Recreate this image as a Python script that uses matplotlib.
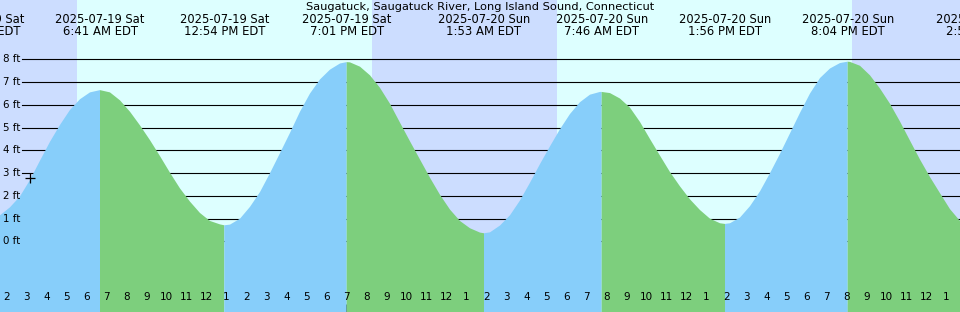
import matplotlib
matplotlib.use("Agg")
import matplotlib.pyplot as plt
import matplotlib.transforms as mtransforms
from datetime import datetime

# ---------------- data ----------------
tide_times = [
    "07-19 01:41", "07-19 02:11", "07-19 02:41", "07-19 03:11", "07-19 03:41", "07-19 04:11",
    "07-19 04:41", "07-19 05:11", "07-19 05:41", "07-19 06:11", "07-19 06:41", "07-19 07:11",
    "07-19 07:41", "07-19 08:11", "07-19 08:41", "07-19 09:11", "07-19 09:41", "07-19 10:11",
    "07-19 10:41", "07-19 11:11", "07-19 11:41", "07-19 12:11", "07-19 12:41", "07-19 12:54",
    "07-19 13:11", "07-19 13:41", "07-19 14:11", "07-19 14:41", "07-19 15:11", "07-19 15:41",
    "07-19 16:11", "07-19 16:41", "07-19 17:11", "07-19 17:41", "07-19 18:11", "07-19 18:41",
    "07-19 19:01", "07-19 19:11", "07-19 19:41", "07-19 20:11", "07-19 20:41", "07-19 21:11",
    "07-19 21:41", "07-19 22:11", "07-19 22:41", "07-19 23:11", "07-19 23:41", "07-20 00:11",
    "07-20 00:41", "07-20 01:11", "07-20 01:41", "07-20 01:53", "07-20 02:11", "07-20 02:41",
    "07-20 03:11", "07-20 03:41", "07-20 04:11", "07-20 04:41", "07-20 05:11", "07-20 05:41",
    "07-20 06:11", "07-20 06:41", "07-20 07:11", "07-20 07:41", "07-20 07:46", "07-20 08:11",
    "07-20 08:41", "07-20 09:11", "07-20 09:41", "07-20 10:11", "07-20 10:41", "07-20 11:11",
    "07-20 11:41", "07-20 12:11", "07-20 12:41", "07-20 13:11", "07-20 13:41", "07-20 13:56",
    "07-20 14:11", "07-20 14:41", "07-20 15:11", "07-20 15:41", "07-20 16:11", "07-20 16:41",
    "07-20 17:11", "07-20 17:41", "07-20 18:11", "07-20 18:41", "07-20 19:11", "07-20 19:41",
    "07-20 20:04", "07-20 20:11", "07-20 20:41", "07-20 21:11", "07-20 21:41", "07-20 22:11",
    "07-20 22:41", "07-20 23:11", "07-20 23:41", "07-21 00:11", "07-21 00:41", "07-21 01:11",
    "07-21 01:41",
]
tide_ft = [
    1.15, 1.50, 1.98, 2.70, 3.55, 4.38,
    5.12, 5.78, 6.25, 6.55, 6.65, 6.55,
    6.20, 5.70, 5.10, 4.45, 3.75, 3.02,
    2.33, 1.75, 1.25, 0.90, 0.75, 0.71,
    0.74, 1.00, 1.52, 2.17, 3.00, 3.88,
    4.77, 5.70, 6.50, 7.12, 7.55, 7.82,
    7.88, 7.87, 7.68, 7.30, 6.75, 6.05,
    5.22, 4.40, 3.60, 2.80, 2.05, 1.40,
    0.90, 0.58, 0.39, 0.36, 0.40, 0.70,
    1.15, 1.80, 2.58, 3.40, 4.18, 4.93,
    5.60, 6.12, 6.45, 6.57, 6.57, 6.52,
    6.28, 5.88, 5.25, 4.50, 3.77, 3.05,
    2.42, 1.85, 1.38, 1.00, 0.80, 0.77,
    0.80, 1.05, 1.55, 2.20, 3.00, 3.85,
    4.75, 5.65, 6.50, 7.18, 7.60, 7.84,
    7.90, 7.89, 7.72, 7.30, 6.72, 6.05,
    5.27, 4.43, 3.60, 2.83, 2.12, 1.42,
    0.90,
]
extreme_times = ["07-19 00:39", "07-19 06:41", "07-19 12:54", "07-19 19:01",
                 "07-20 01:53", "07-20 07:46", "07-20 13:56", "07-20 20:04", "07-21 02:52"]
extreme_kind = ["low", "high", "low", "high", "low", "high", "low", "high", "low"]
sunrise_times = ["07-19 05:32", "07-20 05:31"]
sunset_times = ["07-19 20:16", "07-20 20:17"]
window = ["07-19 01:41", "07-21 01:41"]
ft_levels = [0, 1, 2, 3, 4, 5, 6, 7, 8]
mark_time, mark_ft = "07-19 03:11", 2.78
title = "Saugatuck, Saugatuck River, Long Island Sound, Connecticut"

# ---------------- helpers ----------------
BASE = datetime(2025, 7, 19)


def parse(s):
    return datetime.strptime("2025-" + s, "%Y-%m-%d %H:%M")


def hrs(s):
    return (parse(s) - BASE).total_seconds() / 3600.0


t = [hrs(s) for s in tide_times]
t0, t1 = hrs(window[0]), hrs(window[1])

NIGHT = "#ccddff"
DAY = "#ddffff"
FLOOD = "#87cefa"
EBB = "#7dcf7d"

fig = plt.figure(figsize=(9.6, 3.12), dpi=100)
ax = fig.add_axes([0, 0, 1, 1])
ax.set_facecolor(DAY)
ax.set_xlim(t0, t1)
ybot, ytop = -3.10, 10.61
ax.set_ylim(ybot, ytop)
for sp in ax.spines.values():
    sp.set_visible(False)

# night shading
nights = [(t0, hrs(sunrise_times[0])), (hrs(sunset_times[0]), hrs(sunrise_times[1])),
          (hrs(sunset_times[1]), t1)]
for a, b in nights:
    ax.axvspan(a, b, color=NIGHT, lw=0, zorder=0.1)

# grid lines (drawn beneath the tide fill)
for lv in ft_levels:
    ax.axhline(lv, xmin=22 / 960, xmax=1, color="black", lw=0.8, zorder=0.5)

# tide fills
ext_t = [hrs(s) for s in extreme_times]
for i in range(len(ext_t) - 1):
    a, b = ext_t[i], ext_t[i + 1]
    xs = [tt for tt in t if a <= tt <= b]
    ys = [hh for tt, hh in zip(t, tide_ft) if a <= tt <= b]
    if len(xs) < 2:
        continue
    col = FLOOD if extreme_kind[i] == "low" else EBB
    ax.fill_between(xs, ybot, ys, facecolor=col, edgecolor="none", lw=0, zorder=3)

# marker
ax.plot([hrs(mark_time)], [mark_ft], marker="+", color="black", ms=7.5, mew=0.9, zorder=4)

# y labels
ytrans = mtransforms.blended_transform_factory(ax.transAxes, ax.transData)
for lv in ft_levels:
    ax.text(3 / 960, lv, f"{lv} ft", transform=ytrans, ha="left", va="center",
            fontsize=7.4, color="black", zorder=5)

# extreme labels
xtrans = mtransforms.blended_transform_factory(ax.transData, ax.transAxes)
for s in extreme_times:
    d = parse(s)
    line1 = d.strftime("%Y-%m-%d %a")
    hh = d.hour % 12 or 12
    line2 = f"{hh}:{d.minute:02d} {'AM' if d.hour < 12 else 'PM'} EDT"
    ax.text(hrs(s), 1 - 19.5 / 312, line1, transform=xtrans, ha="center", va="center",
            fontsize=8.3, color="black", zorder=5)
    ax.text(hrs(s), 1 - 31.5 / 312, line2, transform=xtrans, ha="center", va="center",
            fontsize=8.4, color="black", zorder=5)

ax.text(0.5, 1 - 7 / 312, title, transform=ax.transAxes, ha="center", va="center",
        fontsize=8.2, color="black", zorder=6)

# hour ticks and labels
hours = list(range(int(t0) + 1, int(t1) + 1))
ax.set_xticks(hours)
ax.set_xticks([h for h in hours if h % 24 == 0], minor=True)
ax.tick_params(axis="x", which="major", direction="in", length=5.6, width=0.8,
               color="black", bottom=True, labelbottom=False)
ax.tick_params(axis="x", which="minor", direction="in", length=5.6, width=2.3,
               color="black", bottom=True, labelbottom=False)
ax.set_yticks([])
for h in hours:
    lab = h % 12 or 12
    ax.text(h, 1 - 297.5 / 312, str(lab), transform=xtrans, ha="center", va="center",
            fontsize=7.5, color="black", zorder=5)

fig.savefig("out.png", dpi=100)
